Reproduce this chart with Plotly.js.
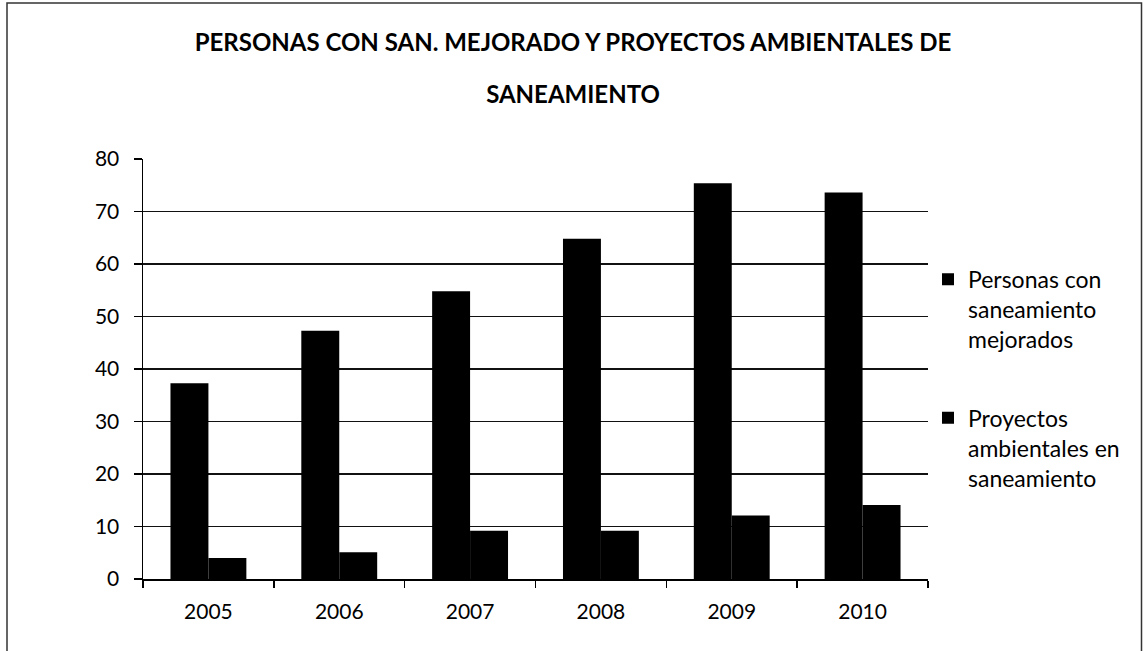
<!DOCTYPE html>
<html>
<head>
<meta charset="utf-8">
<script src="https://cdn.plot.ly/plotly-3.0.1.min.js"></script>
<style>html,body{margin:0;padding:0;background:#fff;}#chart{width:1146px;height:651px;}</style>
</head>
<body>
<div id="chart"></div>
<script>
const years = ['2005', '2006', '2007', '2008', '2009', '2010'];
const personasSaneamiento = [37.3, 47.3, 54.8, 64.8, 75.4, 73.6];
const proyectosAmbientales = [4, 5.1, 9.2, 9.2, 12.1, 14.1];
const seriesNames = ['Personas con<br>saneamiento<br>mejorados', 'Proyectos<br>ambientales en<br>saneamiento'];
const titleLine1 = 'PERSONAS CON SAN. MEJORADO Y PROYECTOS AMBIENTALES DE';
const titleLine2 = 'SANEAMIENTO';
const yTicks = [0, 10, 20, 30, 40, 50, 60, 70, 80];

const FONT = 'Lato, "Open Sans", sans-serif';
const titleFont = {family: FONT, size: 24, weight: 'bold', color: '#000000'};

const traces = [
  {type: 'bar', x: years, y: personasSaneamiento, name: seriesNames[0], legendgroup: 'a',
   marker: {color: '#000000', line: {width: 0}}},
  {type: 'bar', x: years, y: proyectosAmbientales, name: seriesNames[1], legendgroup: 'b',
   marker: {color: '#000000', line: {width: 0}}}
];

const layout = {
  width: 1146, height: 651,
  paper_bgcolor: '#ffffff', plot_bgcolor: '#ffffff',
  margin: {l: 143, r: 218, t: 159, b: 72, pad: 0},
  font: {family: FONT, color: '#000000', size: 21},
  title: {text: titleLine1, x: 0.5, xref: 'container', xanchor: 'center',
          y: 1 - 43 / 651, yref: 'container', yanchor: 'middle',
          font: titleFont,
          subtitle: {text: titleLine2, font: titleFont}},
  barmode: 'group', bargap: 0.42, bargroupgap: 0,
  showlegend: true,
  legend: {x: 1.0, xanchor: 'left', y: 0.765, yanchor: 'top', traceorder: 'grouped',
           tracegroupgap: 46, valign: 'top', font: {family: FONT, size: 23, color: '#000000'},
           bgcolor: 'rgba(0,0,0,0)'},
  xaxis: {type: 'category', showline: true, linecolor: '#000000', linewidth: 1.5,
          ticks: 'outside', tickson: 'boundaries', ticklen: 7, tickwidth: 1.5, tickcolor: '#000000',
          ticklabelstandoff: 13,
          showgrid: false, tickfont: {family: FONT, size: 21, color: '#000000'}, fixedrange: true},
  yaxis: {range: [0, 80], tickvals: yTicks, showline: true, linecolor: '#000000', linewidth: 1.5,
          ticks: 'outside', ticklen: 8, tickwidth: 1.5, tickcolor: '#000000',
          showgrid: true, gridcolor: '#111111', gridwidth: 1.5, zeroline: false,
          ticklabelstandoff: 10,
          tickfont: {family: FONT, size: 21, color: '#000000'}, fixedrange: true},
  shapes: [
    {type: 'rect', xref: 'paper', yref: 'paper', x0: (7 - 143) / 785, x1: (1141.5 - 143) / 785,
     y0: (579 - 660) / 420, y1: (579 - 3) / 420, line: {color: '#333333', width: 1.5}, layer: 'below'}
  ]
};

Plotly.newPlot('chart', traces, layout, {displayModeBar: false, staticPlot: true});
</script>
</body>
</html>
